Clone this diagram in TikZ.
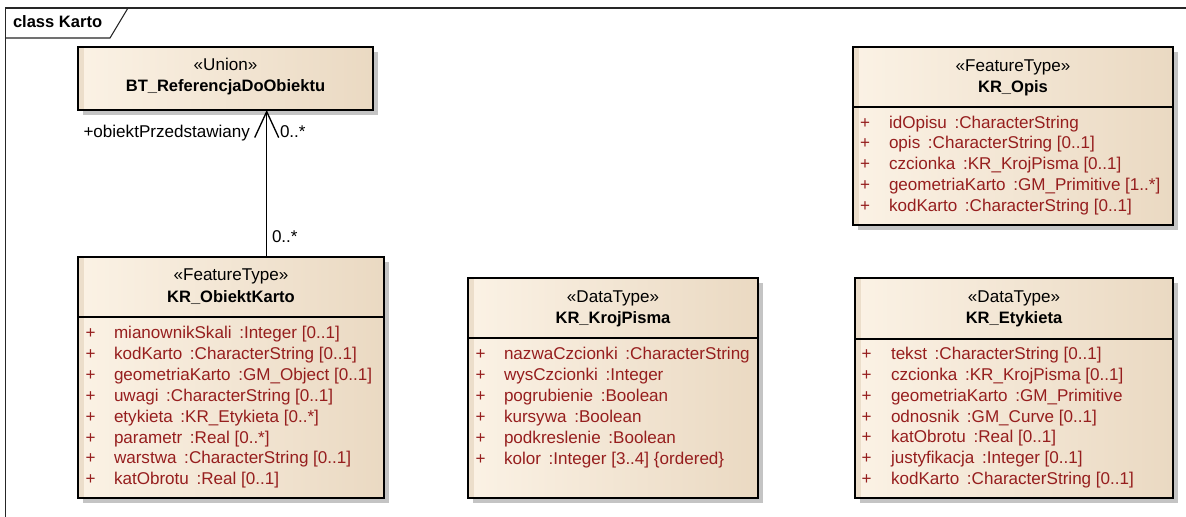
\documentclass[tikz,border=0pt]{standalone}
\usepackage{fontspec}
\setmainfont{Liberation Sans}
\usetikzlibrary{arrows.meta,fit}
\definecolor{attrc}{RGB}{150,30,30}
\definecolor{boxL}{RGB}{251,242,229}
\definecolor{boxR}{RGB}{234,217,194}
\definecolor{stripec}{RGB}{236,222,203}
\definecolor{shadowc}{RGB}{196,196,196}
\newcommand\attrsep{\hspace{0.45em}:}
\tikzset{
  every node/.style={inner sep=0pt, outer sep=0pt, font=\fontsize{12.8}{15}\selectfont},
  classframe/.style={draw=black, line width=1.4pt, inner sep=0pt},
  sepline/.style={draw=black, line width=1.2pt},
  stereo/.style={anchor=mid},
  cname/.style={anchor=mid, font=\fontsize{12.4}{15}\selectfont\bfseries},
  plussign/.style={anchor=mid, text=attrc},
  attrtext/.style={anchor=mid west, text=attrc},
  frameline/.style={draw=black!85, line width=0.8pt},
  assoc/.style={draw=black, line width=1pt, -{Straight Barb[length=19.5pt, width=18pt, line width=1pt]}},
  role/.style={anchor=mid, text=black},
}
% #1 name, #2 x1, #3 y1, #4 x2, #5 y2, #6 separator y
\newcommand\umlclass[6]{%
  \fill[shadowc] (#2+5,#3+5) rectangle (#4+5,#5+5);
  \shade[left color=boxL, right color=boxR] (#2,#3) rectangle (#4,#5);
  \fill[stripec] (#2,#3) rectangle (#2+6,#5);
  \node[classframe, fit={(#2,#3) (#4,#5)}] (#1) {};
  \draw[sepline] (#2,#6) -- (#4,#6);
}
% #1 prefix, #2 x plus, #3 x text, #4 first y, #5 list
\newcommand\attrlist[5]{%
  \foreach \t [count=\i] in {#5} {
    \node[plussign] (#1p\i) at (#2, {#4+(\i-1)*20.9}) {+};
    \node[attrtext] (#1a\i) at (#3, {#4+(\i-1)*20.9}) {\t};
  }
}
\begin{document}
\begin{tikzpicture}[x=0.75pt, y=-0.75pt]
\useasboundingbox (0,0) rectangle (1186,517);
\fill[white] (0,0) rectangle (1186,517);
% frame
\draw[frameline] (5.7,530) -- (5.7,8) -- (1190,8);
\draw[frameline] (5.7,38) -- (110,38) -- (128,8);
\node[anchor=mid west, font=\fontsize{12.4}{15}\selectfont\bfseries] (title) at (13,24) {class Karto};

% BT_ReferencjaDoObiektu
\umlclass{ref}{78}{47}{373}{110}{-100}
\node[stereo] (refst) at (225.5,67) {«Union»};
\node[cname] (refnm) at (225.5,88) {BT\_ReferencjaDoObiektu};

% KR_ObiektKarto
\umlclass{obj}{78}{257}{384}{498}{317}
\node[stereo] (objst) at (231,277) {«FeatureType»};
\node[cname] (objnm) at (231,298.5) {KR\_ObiektKarto};
\attrlist{ob}{90.7}{114}{335}{%
  {mianownikSkali\attrsep Integer [0..1]},
  {kodKarto\attrsep CharacterString [0..1]},
  {geometriaKarto\attrsep GM\_Object [0..1]},
  {uwagi\attrsep CharacterString [0..1]},
  {etykieta\attrsep KR\_Etykieta [0..*]},
  {parametr\attrsep Real [0..*]},
  {warstwa\attrsep CharacterString [0..1]},
  {katObrotu\attrsep Real [0..1]}}

% KR_KrojPisma
\umlclass{kroj}{468}{278}{758}{498}{338}
\node[stereo] (krojst) at (613,299) {«DataType»};
\node[cname] (krojnm) at (613,320) {KR\_KrojPisma};
\attrlist{kr}{480.7}{504}{356.3}{%
  {nazwaCzcionki\attrsep CharacterString},
  {wysCzcionki\attrsep Integer},
  {pogrubienie\attrsep Boolean},
  {kursywa\attrsep Boolean},
  {podkreslenie\attrsep Boolean},
  {kolor\attrsep Integer [3..4] \{ordered\}}}

% KR_Opis
\umlclass{opis}{853}{47}{1173}{225}{107}
\node[stereo] (opisst) at (1013,68) {«FeatureType»};
\node[cname] (opisnm) at (1013,88.5) {KR\_Opis};
\attrlist{op}{865}{889}{124.5}{%
  {idOpisu\attrsep CharacterString},
  {opis\attrsep CharacterString [0..1]},
  {czcionka\attrsep KR\_KrojPisma [0..1]},
  {geometriaKarto\attrsep GM\_Primitive [1..*]},
  {kodKarto\attrsep CharacterString [0..1]}}

% KR_Etykieta
\umlclass{ety}{855}{278}{1173}{498}{339}
\node[stereo] (etyst) at (1014,299) {«DataType»};
\node[cname] (etynm) at (1014,320) {KR\_Etykieta};
\attrlist{et}{866.7}{891}{355.8}{%
  {tekst\attrsep CharacterString [0..1]},
  {czcionka\attrsep KR\_KrojPisma [0..1]},
  {geometriaKarto\attrsep GM\_Primitive},
  {odnosnik\attrsep GM\_Curve [0..1]},
  {katObrotu\attrsep Real [0..1]},
  {justyfikacja\attrsep Integer [0..1]},
  {kodKarto\attrsep CharacterString [0..1]}}

% association
\coordinate (assocbot) at ([xshift=188.7*0.75pt]obj.north west);
\draw[assoc] (assocbot) -- (assocbot |- ref.south);
\node[role, anchor=mid east] (rolename) at (250,134) {+obiektPrzedstawiany};
\node[role, anchor=mid west] (multtop) at (280,134) {0..*};
\node[role, anchor=mid west] (multbot) at (272,239) {0..*};
\end{tikzpicture}
\end{document}
